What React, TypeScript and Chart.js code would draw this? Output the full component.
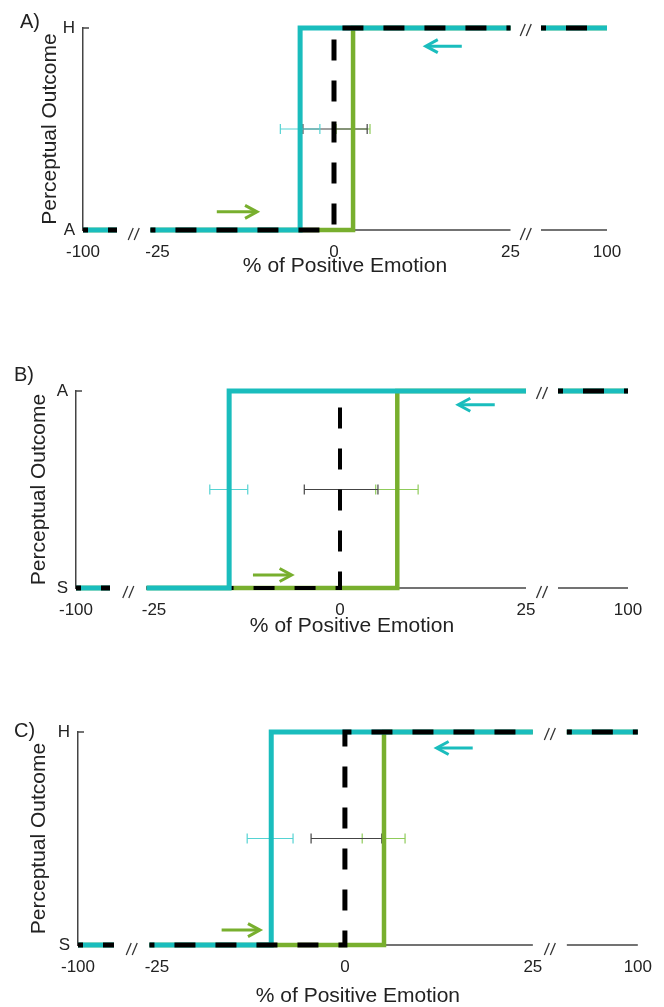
import React, { useEffect, useRef } from 'react';
import { Chart, registerables, LinearScale } from 'chart.js';

Chart.register(...registerables);

// ---------------- DATA ----------------
const PANEL_LABELS = ['A)', 'B)', 'C)'];
const X_TICKS = [-100, -25, 0, 25, 100];
const Y_LOW_LABELS = ['A', 'S', 'S'];
const Y_HIGH_LABELS = ['H', 'A', 'H'];
const X_TITLE = '% of Positive Emotion';
const Y_TITLE = 'Perceptual Outcome';

// axis pieces of the broken x axis (value ranges that are shown)
const AXIS_PIECES = [
  [-100, -90],
  [-26, 25],
  [90, 100],
];

// switch points of the three step curves per panel
const CYAN_SWITCH = [-4.8, -14.9, -9.8];
const GREEN_SWITCH = [2.7, 7.7, 5.2];
const BLACK_SWITCH = [0, 0, 0];

// error bars (at mid level)
const ERR_LEVEL = 0.5;
const CYAN_ERR_LOW = [-7.6, -17.5, -13.0];
const CYAN_ERR_HIGH = [-2.0, -12.4, -6.9];
const BLACK_ERR_LOW = [-4.4, -4.8, -4.5];
const BLACK_ERR_HIGH = [4.7, 5.1, 4.9];
const GREEN_ERR_LOW = [0.3, 4.8, 2.3];
const GREEN_ERR_HIGH = [5.1, 10.5, 8.0];

// arrows: [from, to, level]
const GREEN_ARROWS = [
  [-16.6, -10.9, 0.09],
  [-11.7, -6.5, 0.066],
  [-16.4, -11.3, 0.07],
];
const CYAN_ARROWS = [
  [18.1, 13.0, 0.91],
  [20.8, 15.9, 0.93],
  [17.0, 12.2, 0.925],
];

// ---------------- STYLE / LAYOUT ----------------
const FONT = "'Liberation Sans', Arial, sans-serif";
const TEXT = '#222';
const AXIS = '#444';
const CYAN = '#1abdbd';
const GREEN = '#78af2e';
const BLACK = '#000';
const CYAN_ERR = '#55d3d3';
const GREEN_ERR = '#8fcb5a';
const BLACK_ERR = '#444';
const DASH = [21, 20];
const DASH_OFFSET = 16;
const BLACK_OVER_CYAN = [true, false, true];

const LAYOUT = [
  { top: 0, height: 290, areaTop: 28, areaBottom: 230, left: 83, pNeg90: 117, p0: 334, unit: 7.06, p90: 541, right: 607, yTitlePad: 37.4, xAxisHeight: 49, letterX: 20, letterY: 11 },
  { top: 335, height: 305, areaTop: 391, areaBottom: 588, left: 76, pNeg90: 110, p0: 340, unit: 7.44, p90: 558, right: 628, yTitlePad: 26.9, xAxisHeight: 51, letterX: 14, letterY: 364 },
  { top: 680, height: 330, areaTop: 732, areaBottom: 945, left: 78, pNeg90: 114, p0: 345, unit: 7.52, p90: 567, right: 638, yTitlePad: 26.9, xAxisHeight: 64, letterX: 14, letterY: 720 },
];
const PAGE_W = 664;
const X_TICK_PAD = 12;

// ---------------- broken linear scale ----------------
type Knot = { v: number; f: number };
const knotStore = new WeakMap<HTMLCanvasElement, Knot[]>();

class BrokenLinearScale extends LinearScale {
  static id = 'brokenLinear';
  static defaults = {};
  getPixelForValue(value: any) {
    const knots = knotStore.get((this as any).chart.canvas);
    if (!knots || value === null || value === undefined || isNaN(value)) return super.getPixelForValue(value);
    let i = 0;
    while (i < knots.length - 2 && value > knots[i + 1].v) i++;
    const a = knots[i];
    const b = knots[i + 1];
    const f = a.f + ((value - a.v) / (b.v - a.v)) * (b.f - a.f);
    return this.getPixelForDecimal(f);
  }
  getValueForPixel(pixel: number) {
    const knots = knotStore.get((this as any).chart.canvas);
    if (!knots) return super.getValueForPixel(pixel);
    const f = this.getDecimalForPixel(pixel);
    let i = 0;
    while (i < knots.length - 2 && f > knots[i + 1].f) i++;
    const a = knots[i];
    const b = knots[i + 1];
    return a.v + ((f - a.f) / (b.f - a.f)) * (b.v - a.v);
  }
}
Chart.register(BrokenLinearScale as any);

// ---------------- helpers ----------------
const gapPoint = (a: number, b: number) => ({ x: (a + b) / 2, y: null });

function stepPoints(s: number) {
  const [[a0, a1], [b0, b1], [c0, c1]] = AXIS_PIECES;
  return [
    { x: a0, y: 0 }, { x: a1, y: 0 }, gapPoint(a1, b0),
    { x: b0, y: 0 }, { x: s, y: 0 }, { x: s, y: 1 }, { x: b1, y: 1 }, gapPoint(b1, c0),
    { x: c0, y: 1 }, { x: c1, y: 1 },
  ];
}
function innerStep(s: number) {
  const [b0, b1] = AXIS_PIECES[1];
  return [{ x: b0, y: 0 }, { x: s, y: 0 }, { x: s, y: 1 }, { x: b1, y: 1 }];
}
function outerStep() {
  const [[a0, a1], [b0, b1], [c0, c1]] = AXIS_PIECES;
  return [{ x: a0, y: 0 }, { x: a1, y: 0 }, gapPoint(a1, c0), { x: c0, y: 1 }, { x: c1, y: 1 }];
}

function lineDs(data: any[], color: string, width: number, order: number, dash?: number[]) {
  return {
    data,
    borderColor: color,
    backgroundColor: color,
    borderWidth: width,
    pointRadius: 0,
    pointHoverRadius: 0,
    fill: false,
    tension: 0,
    spanGaps: false,
    borderJoinStyle: 'miter',
    borderCapStyle: 'butt',
    borderDash: dash || [],
    borderDashOffset: dash ? DASH_OFFSET : 0,
    order,
    clip: false,
  };
}
function errDs(lo: number, hi: number, color: string) {
  return {
    data: [{ x: lo, y: ERR_LEVEL }, { x: hi, y: ERR_LEVEL }],
    borderColor: color,
    backgroundColor: color,
    borderWidth: 1.2,
    pointStyle: 'line',
    pointRotation: 90,
    pointRadius: 5,
    pointHoverRadius: 5,
    pointBorderWidth: 1.2,
    pointBorderColor: color,
    pointBackgroundColor: color,
    fill: false,
    order: 10,
    clip: false,
  };
}

function drawArrow(ctx: CanvasRenderingContext2D, x1: number, x2: number, y: number, color: string) {
  const dir = Math.sign(x2 - x1);
  ctx.save();
  ctx.strokeStyle = color;
  ctx.lineWidth = 3;
  ctx.lineCap = 'butt';
  ctx.lineJoin = 'miter';
  ctx.beginPath();
  ctx.moveTo(x1, y);
  ctx.lineTo(x2 - dir, y);
  ctx.stroke();
  ctx.beginPath();
  ctx.moveTo(x2 - dir * 12, y - 6.5);
  ctx.lineTo(x2, y);
  ctx.lineTo(x2 - dir * 12, y + 6.5);
  ctx.stroke();
  ctx.restore();
}
function drawBreak(ctx: CanvasRenderingContext2D, x: number, y: number) {
  ctx.save();
  ctx.strokeStyle = '#333';
  ctx.lineWidth = 1.3;
  for (const dx of [-3, 3]) {
    ctx.beginPath();
    ctx.moveTo(x + dx - 2.5, y + 6);
    ctx.lineTo(x + dx + 2.5, y - 6);
    ctx.stroke();
  }
  ctx.restore();
}

function Panel({ p }: { p: number }) {
  const ref = useRef<HTMLCanvasElement>(null);
  const L = LAYOUT[p];
  useEffect(() => {
    const canvas = ref.current!;
    const width = L.right - L.left;
    const knotVals = [AXIS_PIECES[0][0], AXIS_PIECES[0][1], AXIS_PIECES[1][0], AXIS_PIECES[1][1], AXIS_PIECES[2][0], AXIS_PIECES[2][1]];
    const knotPx = [L.left, L.pNeg90, L.p0 + AXIS_PIECES[1][0] * L.unit, L.p0 + AXIS_PIECES[1][1] * L.unit, L.p90, L.right];
    knotStore.set(canvas, knotVals.map((v, i) => ({ v, f: (knotPx[i] - L.left) / width })));

    const datasets: any[] = [
      errDs(CYAN_ERR_LOW[p], CYAN_ERR_HIGH[p], CYAN_ERR),
      errDs(BLACK_ERR_LOW[p], BLACK_ERR_HIGH[p], BLACK_ERR),
      errDs(GREEN_ERR_LOW[p], GREEN_ERR_HIGH[p], GREEN_ERR),
      lineDs(stepPoints(GREEN_SWITCH[p]), GREEN, 4.5, 6),
      lineDs(stepPoints(CYAN_SWITCH[p]), CYAN, 5, 4),
      lineDs(innerStep(BLACK_SWITCH[p]), BLACK, BLACK_OVER_CYAN[p] ? 5 : 4, BLACK_OVER_CYAN[p] ? 2 : 5, DASH),
      lineDs(outerStep(), BLACK, 5, 1, DASH),
    ];

    const decor = {
      id: 'decor',
      beforeDatasetsDraw(chart: any) {
        const { ctx, chartArea, scales } = chart;
        const x = scales.x;
        const y = scales.y;
        const yb = y.getPixelForValue(0);
        ctx.save();
        ctx.strokeStyle = AXIS;
        ctx.lineWidth = 1.5;
        for (const [a, b] of AXIS_PIECES) {
          ctx.beginPath();
          ctx.moveTo(x.getPixelForValue(a), yb);
          ctx.lineTo(x.getPixelForValue(b), yb);
          ctx.stroke();
        }
        // small inward tick at the top of the y axis
        ctx.beginPath();
        ctx.moveTo(chartArea.left, chartArea.top);
        ctx.lineTo(chartArea.left + 6, chartArea.top);
        ctx.stroke();
        ctx.restore();
      },
      afterDatasetsDraw(chart: any) {
        const { ctx, scales } = chart;
        const x = scales.x;
        const y = scales.y;
        const g = GREEN_ARROWS[p];
        drawArrow(ctx, x.getPixelForValue(g[0]), x.getPixelForValue(g[1]), y.getPixelForValue(g[2]), GREEN);
        const c = CYAN_ARROWS[p];
        drawArrow(ctx, x.getPixelForValue(c[0]), x.getPixelForValue(c[1]), y.getPixelForValue(c[2]), CYAN);
        const leftBreak = (x.getPixelForValue(AXIS_PIECES[0][1]) + x.getPixelForValue(AXIS_PIECES[1][0])) / 2;
        const rightBreak = (x.getPixelForValue(AXIS_PIECES[1][1]) + x.getPixelForValue(AXIS_PIECES[2][0])) / 2;
        drawBreak(ctx, leftBreak, y.getPixelForValue(0) + 4);
        drawBreak(ctx, rightBreak, y.getPixelForValue(0) + 4);
        drawBreak(ctx, rightBreak, y.getPixelForValue(1) + 2);
      },
    };

    const chart = new Chart(canvas, {
      type: 'line',
      data: { datasets },
      options: {
        responsive: false,
        maintainAspectRatio: false,
        animation: false,
        events: [],
        layout: {
          padding: {
            left: 0,
            right: PAGE_W - L.right,
            top: L.areaTop - L.top,
            bottom: L.height - (L.areaBottom - L.top) - L.xAxisHeight,
          },
        },
        plugins: { legend: { display: false }, tooltip: { enabled: false }, title: { display: false } },
        scales: {
          x: {
            type: 'brokenLinear',
            min: -100,
            max: 100,
            grid: { display: false, drawTicks: false },
            border: { display: false },
            afterBuildTicks: (s: any) => {
              s.ticks = X_TICKS.map((v) => ({ value: v }));
            },
            afterFit: (s: any) => {
              s.height = L.xAxisHeight;
            },
            ticks: {
              autoSkip: false,
              maxRotation: 0,
              minRotation: 0,
              padding: X_TICK_PAD,
              color: TEXT,
              font: { family: FONT, size: 17 },
              callback: (v: any) => String(v),
            },
            title: { display: true, text: X_TITLE, color: TEXT, font: { family: FONT, size: 21 }, padding: 0 },
          },
          y: {
            type: 'linear',
            min: 0,
            max: 1,
            grid: { display: false, drawTicks: false },
            border: { display: true, color: AXIS, width: 1.5 },
            afterBuildTicks: (s: any) => {
              s.ticks = [{ value: 0 }, { value: 1 }];
            },
            afterFit: (s: any) => {
              s.width = L.left;
            },
            ticks: {
              autoSkip: false,
              padding: 8,
              color: TEXT,
              font: { family: FONT, size: 17 },
              callback: (v: any) => (v === 1 ? Y_HIGH_LABELS[p] : Y_LOW_LABELS[p]),
            },
            title: {
              display: true,
              text: Y_TITLE,
              color: TEXT,
              font: { family: FONT, size: 21 },
              padding: { top: L.yTitlePad, bottom: 0 },
            },
          },
        },
      } as any,
      plugins: [decor],
    } as any);
    return () => chart.destroy();
  }, [p]);

  return (
    <>
      <canvas
        ref={ref}
        width={PAGE_W}
        height={L.height}
        style={{ position: 'absolute', left: 0, top: L.top, width: PAGE_W, height: L.height }}
      />
      <div
        style={{
          position: 'absolute',
          left: L.letterX,
          top: L.letterY,
          fontFamily: FONT,
          fontSize: 20,
          lineHeight: '20px',
          color: TEXT,
        }}
      >
        {PANEL_LABELS[p]}
      </div>
    </>
  );
}

export default function App() {
  return (
    <div style={{ position: 'absolute', left: 0, top: 0, width: PAGE_W, height: 1007, overflow: 'hidden', background: '#fff' }}>
      {PANEL_LABELS.map((_, p) => (
        <Panel key={p} p={p} />
      ))}
    </div>
  );
}
